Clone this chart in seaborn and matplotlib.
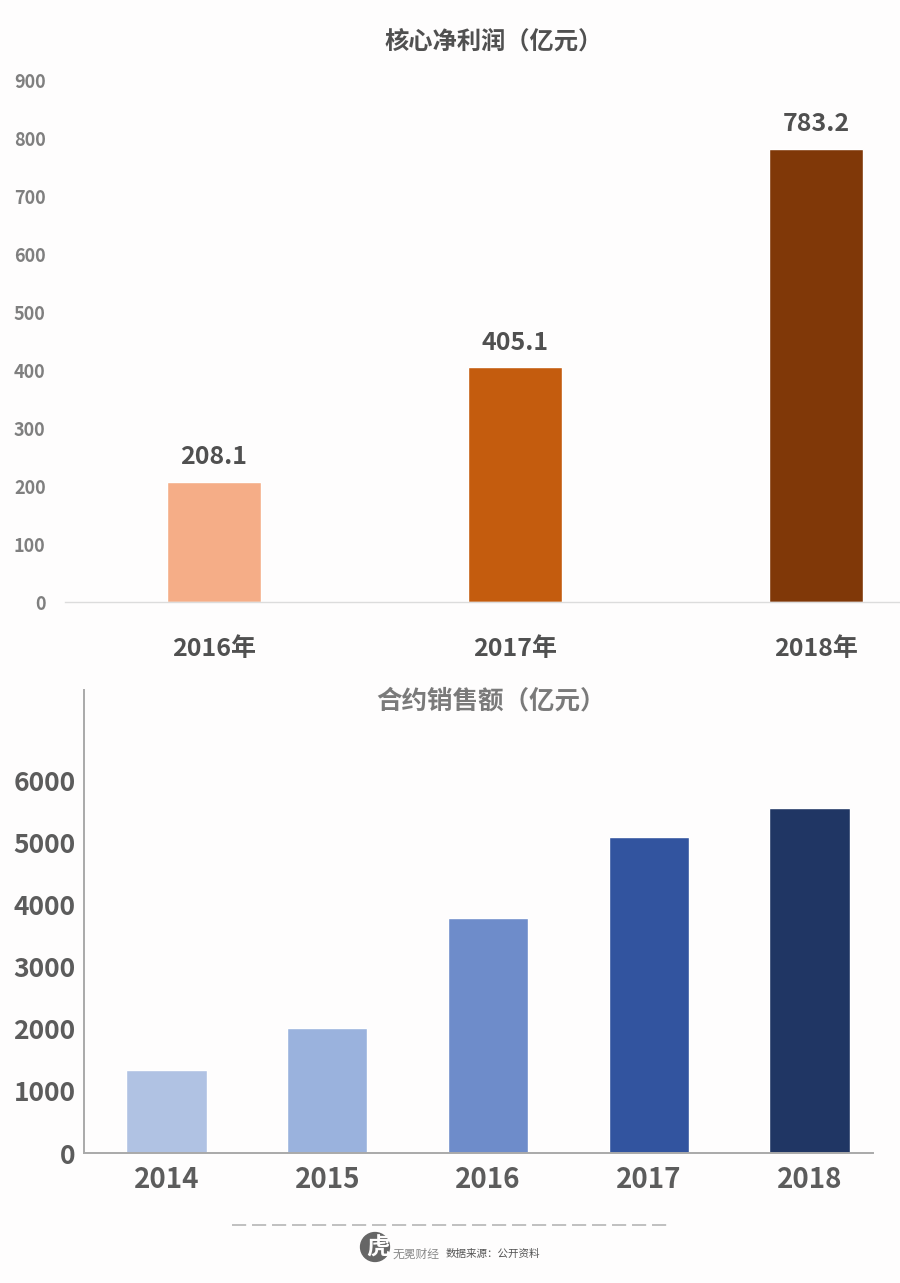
import matplotlib
matplotlib.use("Agg")
import matplotlib.pyplot as plt
from matplotlib.patches import Circle
import pandas as pd
import seaborn as sns

sns.set_theme(style="white")
plt.rcParams['font.family'] = ['Noto Sans CJK SC', 'DejaVu Sans']

# 核心净利润
profit_years = ["2016年", "2017年", "2018年"]
profit_values = [208.1, 405.1, 783.2]
profit_labels = ["208.1", "405.1", "783.2"]
profit_colors = ["#f5ad87", "#c45c0e", "#803808"]
profit_ticks = [0, 100, 200, 300, 400, 500, 600, 700, 800, 900]

# 合约销售额
sales_years = ["2014", "2015", "2016", "2017", "2018"]
sales_values = [1340, 2015, 3795, 5100, 5565]
sales_colors = ["#b0c2e3", "#9ab2dd", "#6e8cca", "#32549f", "#203664"]
sales_ticks = [0, 1000, 2000, 3000, 4000, 5000, 6000]

W, H = 900, 1283
bg = "#fefdfd"


def axes_px(fig, left, top, right, bottom):
    return fig.add_axes([left / W, 1 - bottom / H, (right - left) / W, (bottom - top) / H])


fig = plt.figure(figsize=(W / 100, H / 100), dpi=100, facecolor=bg)

# 上图
ax1 = axes_px(fig, 65, 81, 900, 602)
ax1.set_facecolor("none")
df1 = pd.DataFrame({"year": profit_years, "value": profit_values})
sns.barplot(data=df1, x="year", y="value", hue="year", palette=profit_colors,
            width=0.315, legend=False, saturation=1, ax=ax1)
ax1.set_xlim(-0.495, 2.279)
ax1.set_ylim(0, 900)
ax1.set_yticks(profit_ticks)
ax1.set_xlabel("")
ax1.set_ylabel("")
sns.despine(ax=ax1, left=True, right=True, top=True)
ax1.spines["bottom"].set_color("#dcdcdc")
ax1.spines["bottom"].set_linewidth(1)
ax1.tick_params(axis="y", length=0, pad=14, labelsize=13, labelcolor="#7f7f7f")
ax1.tick_params(axis="x", length=0, pad=25, labelsize=18, labelcolor="#505050")
for lab in ax1.get_yticklabels() + ax1.get_xticklabels():
    lab.set_fontweight("bold")
for i, txt in enumerate(profit_labels):
    ax1.annotate(txt, (i, profit_values[i]), xytext=(0, 9), textcoords="offset points",
                 ha="center", va="bottom", fontsize=18, fontweight="bold", color="#505050")
fig.text(494 / W, 1 - 42 / H, "核心净利润（亿元）", ha="center", va="center",
         fontsize=17.5, fontweight="bold", color="#505050")

# 下图
ax2 = axes_px(fig, 84, 690, 873, 1153)
ax2.set_facecolor("none")
df2 = pd.DataFrame({"year": sales_years, "value": sales_values})
sns.barplot(data=df2, x="year", y="value", hue="year", palette=sales_colors,
            width=0.5, legend=False, saturation=1, ax=ax2)
ax2.set_xlim(-0.513, 4.395)
ax2.set_ylim(0, 7467)
ax2.set_yticks(sales_ticks)
ax2.set_xlabel("")
ax2.set_ylabel("")
sns.despine(ax=ax2, right=True, top=True)
for s in ["left", "bottom"]:
    ax2.spines[s].set_color("#a9a9a9")
    ax2.spines[s].set_linewidth(1.4)
ax2.tick_params(axis="y", length=0, pad=6, labelsize=19, labelcolor="#5c5c5c")
ax2.tick_params(axis="x", length=0, pad=9.5, labelsize=20, labelcolor="#5c5c5c")
for lab in ax2.get_yticklabels() + ax2.get_xticklabels():
    lab.set_fontweight("bold")
fig.text(491.5 / W, 1 - 701 / H, "合约销售额（亿元）", ha="center", va="center",
         fontsize=18.4, fontweight="bold", color="#7a7a7a")

# 底部分隔线和来源
fig.add_artist(plt.Line2D([232 / W, 668 / W], [1 - 1225 / H] * 2, color="#b5b5b5",
                          linewidth=1.2, dashes=(8.5, 3.5)))
logo = fig.add_axes([358 / W, 1 - 1264 / H, 34 / W, 34 / H])
logo.axis("off")
logo.set_xlim(-1, 1)
logo.set_ylim(-1, 1)
logo.add_patch(Circle((0, 0), 0.85, color="#666666"))
logo.text(0.2, -0.02, "虎", ha="center", va="center", fontsize=17, fontweight="bold", color="#fefdfd")
fig.text(416 / W, 1 - 1254 / H, "无冕财经", ha="center", va="center", fontsize=8.5, color="#8a8a8a")
fig.text(493 / W, 1 - 1254 / H, "数据来源：公开资料", ha="center", va="center", fontsize=7.6,
         fontweight="medium", color="#555555")

fig.savefig("out.png", dpi=100, facecolor=bg)
